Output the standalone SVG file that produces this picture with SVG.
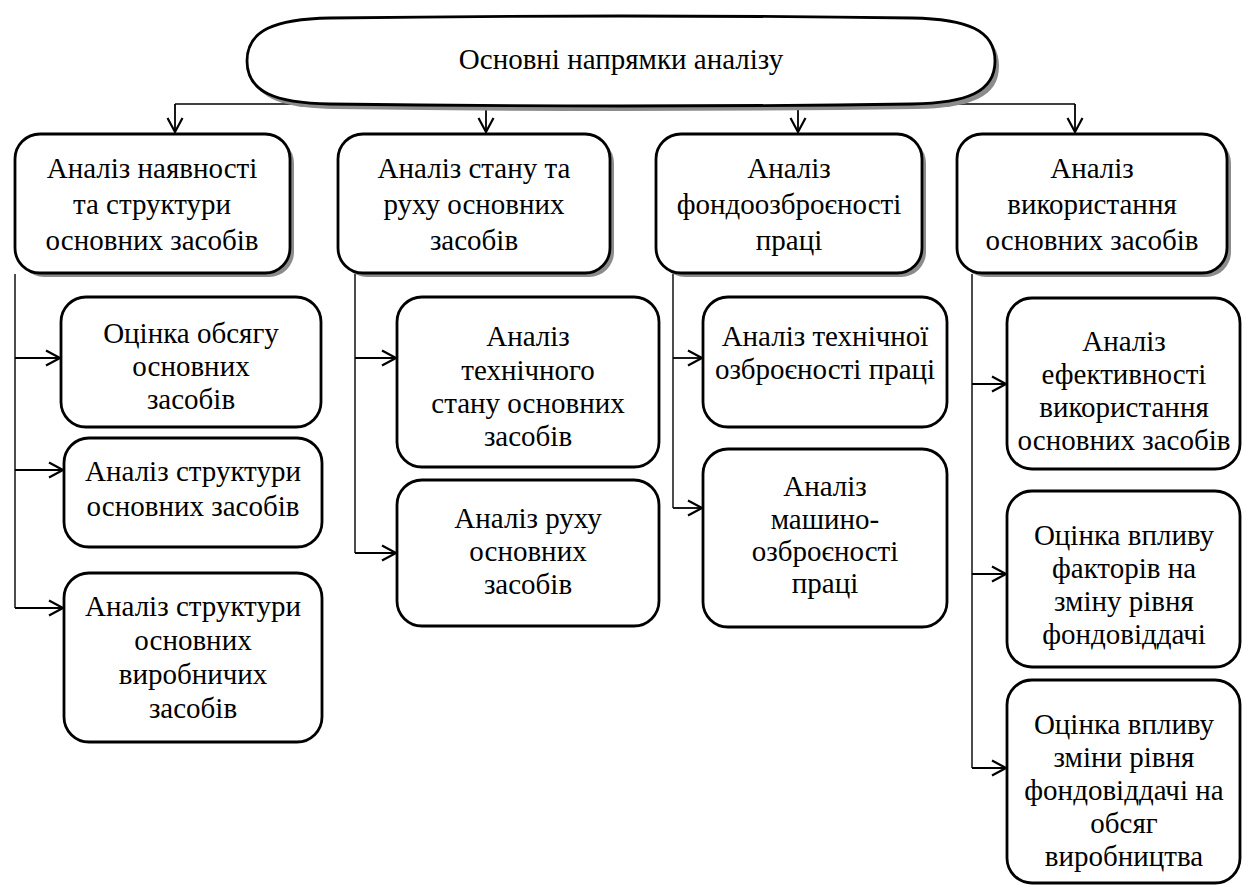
<svg xmlns="http://www.w3.org/2000/svg" width="1243" height="885" viewBox="0 0 1243 885" font-family="Liberation Serif, Times New Roman, serif">
<defs>
<marker id="arr" markerUnits="userSpaceOnUse" markerWidth="18" markerHeight="20" refX="15" refY="9" orient="auto">
<path d="M1,1.5 L15,9 L1,16.5" fill="none" stroke="#000" stroke-width="2.2"/>
</marker>
</defs>
<style>
.box{fill:#fff;stroke:#000;stroke-width:2.8}
.sh{fill:#8c8c8c;stroke:none}
.t{font-size:29px;fill:#000;text-anchor:middle}
.c{fill:none;stroke:#000;stroke-width:1.4}
.a{fill:none;stroke:#000;stroke-width:1.8;marker-end:url(#arr)}
</style>
<rect width="1243" height="885" fill="#fff"/>
<g id="connectors">
<path class="c" d="M175,104 H1075"/>
<path class="a" d="M175,104 V132"/>
<path class="a" d="M486,104 V132"/>
<path class="a" d="M798,104 V132"/>
<path class="a" d="M1075,104 V132"/>
<path class="c" d="M15,274 V608"/>
<path class="a" d="M15,358 H60"/>
<path class="a" d="M15,470 H63"/>
<path class="a" d="M15,608 H63"/>
<path class="c" d="M355,274 V553"/>
<path class="a" d="M355,358 H396"/>
<path class="a" d="M355,553 H396"/>
<path class="c" d="M673,274 V508"/>
<path class="a" d="M673,358 H702"/>
<path class="a" d="M673,508 H702"/>
<path class="c" d="M972,274 V768"/>
<path class="a" d="M972,384 H1006"/>
<path class="a" d="M972,574 H1006"/>
<path class="a" d="M972,768 H1006"/>
</g>
<g id="root">
<path class="sh" transform="translate(4,5)" d="M247,61 C247,30 275,19 330,18 Q621,14 912,18 C967,19 995,30 995,61 C995,92 967,103 912,104 Q621,108 330,104 C275,103 247,92 247,61 Z"/>
<path class="box" stroke-width="3.2" d="M247,61 C247,30 275,19 330,18 Q621,14 912,18 C967,19 995,30 995,61 C995,92 967,103 912,104 Q621,108 330,104 C275,103 247,92 247,61 Z"/>
<text class="t" x="621" y="69">Основні напрямки аналізу</text>
</g>
<g id="n1">
<rect class="sh" x="19" y="138" width="275" height="139" rx="25"/>
<rect class="box" x="15" y="134" width="275" height="139" rx="25"/>
<text class="t" x="152" y="178">Аналіз наявності</text>
<text class="t" x="152" y="214">та структури</text>
<text class="t" x="152" y="250">основних засобів</text>
</g>
<g id="n2">
<rect class="sh" x="342" y="138" width="272" height="139" rx="25"/>
<rect class="box" x="338" y="134" width="272" height="139" rx="25"/>
<text class="t" x="474" y="178">Аналіз стану та</text>
<text class="t" x="474" y="214">руху основних</text>
<text class="t" x="474" y="250">засобів</text>
</g>
<g id="n3">
<rect class="sh" x="660" y="138" width="266" height="139" rx="25"/>
<rect class="box" x="656" y="134" width="266" height="139" rx="25"/>
<text class="t" x="789" y="178">Аналіз</text>
<text class="t" x="789" y="214">фондоозброєності</text>
<text class="t" x="789" y="250">праці</text>
</g>
<g id="n4">
<rect class="sh" x="961" y="138" width="270" height="139" rx="25"/>
<rect class="box" x="957" y="134" width="270" height="139" rx="25"/>
<text class="t" x="1092" y="178">Аналіз</text>
<text class="t" x="1092" y="214">використання</text>
<text class="t" x="1092" y="250">основних засобів</text>
</g>
<g id="a1">
<rect class="box" x="61" y="297" width="260" height="130" rx="25"/>
<text class="t" x="191" y="343">Оцінка обсягу</text>
<text class="t" x="191" y="376">основних</text>
<text class="t" x="191" y="409">засобів</text>
</g>
<g id="a2">
<rect class="box" x="64" y="438" width="258" height="109" rx="25"/>
<text class="t" x="193" y="481">Аналіз структури</text>
<text class="t" x="193" y="516">основних засобів</text>
</g>
<g id="a3">
<rect class="box" x="64" y="573" width="258" height="169" rx="25"/>
<text class="t" x="193" y="616">Аналіз структури</text>
<text class="t" x="193" y="650">основних</text>
<text class="t" x="193" y="684">виробничих</text>
<text class="t" x="193" y="718">засобів</text>
</g>
<g id="b1">
<rect class="box" x="397" y="297" width="262" height="170" rx="25"/>
<text class="t" x="528" y="346">Аналіз</text>
<text class="t" x="528" y="380">технічного</text>
<text class="t" x="528" y="413">стану основних</text>
<text class="t" x="528" y="446">засобів</text>
</g>
<g id="b2">
<rect class="box" x="397" y="480" width="262" height="146" rx="25"/>
<text class="t" x="528" y="528">Аналіз руху</text>
<text class="t" x="528" y="561">основних</text>
<text class="t" x="528" y="594">засобів</text>
</g>
<g id="c1">
<rect class="box" x="703" y="297" width="244" height="130" rx="25"/>
<text class="t" x="825" y="346">Аналіз технічної</text>
<text class="t" x="825" y="379">озброєності праці</text>
</g>
<g id="c2">
<rect class="box" x="703" y="449" width="244" height="178" rx="25"/>
<text class="t" x="825" y="496">Аналіз</text>
<text class="t" x="825" y="529">машино-</text>
<text class="t" x="825" y="561">озброєності</text>
<text class="t" x="825" y="593">праці</text>
</g>
<g id="d1">
<rect class="box" x="1007" y="298" width="233" height="171" rx="25"/>
<text class="t" x="1124" y="351">Аналіз</text>
<text class="t" x="1124" y="384">ефективності</text>
<text class="t" x="1124" y="417">використання</text>
<text class="t" x="1124" y="450">основних засобів</text>
</g>
<g id="d2">
<rect class="box" x="1007" y="491" width="233" height="176" rx="25"/>
<text class="t" x="1124" y="545">Оцінка впливу</text>
<text class="t" x="1124" y="578">факторів на</text>
<text class="t" x="1124" y="611">зміну рівня</text>
<text class="t" x="1124" y="644">фондовіддачі</text>
</g>
<g id="d3">
<rect class="box" x="1007" y="680" width="233" height="203" rx="25"/>
<text class="t" x="1124" y="734">Оцінка впливу</text>
<text class="t" x="1124" y="767">зміни рівня</text>
<text class="t" x="1124" y="800">фондовіддачі на</text>
<text class="t" x="1124" y="833">обсяг</text>
<text class="t" x="1124" y="866">виробництва</text>
</g>
</svg>
